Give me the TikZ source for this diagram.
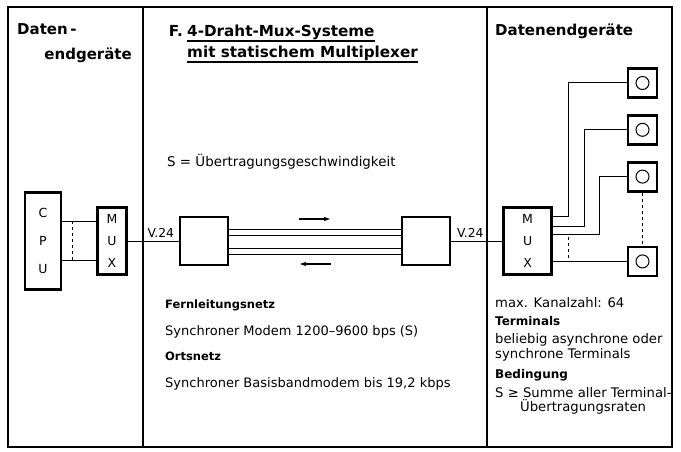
\documentclass[tikz,border=0pt]{standalone}
\usepackage{fontspec}
\setmainfont{DejaVu Sans}
\usetikzlibrary{positioning, calc, arrows.meta}

\begin{document}
\begin{tikzpicture}[
        x=1pt, y=-1pt,
        node distance=15pt,
        frame/.style={line width=2pt},
        unit/.style={
            rectangle,
            draw,
            line width=2.4pt,
            align=center,
            inner sep=0pt,
            font=\fontsize{12.5}{22}\selectfont
        },
        terminal/.style={
            rectangle,
            draw,
            line width=2.8pt,
            minimum width=29pt,
            minimum height=29pt
        },
        heading/.style={font=\bfseries\fontsize{15}{18}\selectfont, inner sep=0pt},
        subhead/.style={font=\bfseries\fontsize{11.5}{14}\selectfont, inner sep=0pt, anchor=base west},
        rsubhead/.style={font=\bfseries\fontsize{12}{14}\selectfont, inner sep=0pt, anchor=base west},
        body/.style={font=\fontsize{13}{15}\selectfont, inner sep=0pt, anchor=base west},
        rbody/.style={font=\fontsize{13.2}{15}\selectfont, inner sep=0pt, anchor=base west},
        iface/.style={font=\fontsize{12.3}{14}\selectfont, inner sep=3pt},
        wire/.style={line width=1pt},
        arrow/.style={-{Latex[length=7pt,width=4.5pt]}, line width=1.2pt}
        ]

        \useasboundingbox (0,0) rectangle (681,452);

        % Frame and columns
        \draw[frame] (8,7) rectangle (672,447);
        \draw[frame] (143,7) -- (143,447);
        \draw[frame] (487,7) -- (487,447);

        % Headings
        \node[heading, anchor=base west] (lefthead1) at (17,35) {Daten\,-};
        \node[heading, anchor=base east] (lefthead2) at (132,60) {endgeräte};
        \node[heading, font=\bfseries\fontsize{15.2}{18}\selectfont, anchor=base west] (title1) at (187,37) {4-Draht-Mux-Systeme};
        \node[heading, font=\bfseries\fontsize{15.2}{18}\selectfont, anchor=base east] (titlenr) at ([xshift=-4pt]title1.base west) {F.};
        \node[heading, font=\bfseries\fontsize{15.2}{18}\selectfont, anchor=base west] (title2) at ([yshift=-21pt]title1.base west) {mit statischem Multiplexer};
        \draw[line width=1.4pt] ([yshift=-4pt]title1.base west) -- ([yshift=-4pt]title1.base east);
        \draw[line width=1.4pt] ([yshift=-4pt]title2.base west) -- ([yshift=-4pt]title2.base east);
        \node[heading, anchor=base west] (righthead) at (495,36) {Datenendgeräte};

        \node[body, font=\fontsize{13.4}{15}\selectfont] (speed) at (167,167) {S = Übertragungsgeschwindigkeit};

        % Left side
        \node[unit, minimum width=36pt, minimum height=97pt, font=\fontsize{12.5}{28}\selectfont] (cpu) at (43,241) {C\\P\\U};
        \node[unit, minimum width=29pt, minimum height=67pt, right=34pt of cpu] (muxl) {M\\U\\X};

        % Line with modems
        \node[unit, minimum width=48pt, minimum height=48pt, right=51pt of muxl] (modeml) {};
        \node[unit, minimum width=48pt, minimum height=48pt, right=172pt of modeml] (modemr) {};
        \node[unit, minimum width=48pt, minimum height=67pt, right=51pt of modemr] (muxr) {M\\U\\X};

        % Terminals
        \node[terminal] (t1) at (642.5,83) {};
        \node[terminal, below=of t1] (t2) {};
        \node[terminal, below=of t2] (t3) {};
        \node[terminal, below=53pt of t3] (t4) {};
        \foreach \t in {t1, t2, t3, t4}
            \draw[wire] (\t) circle (6.5pt);

        % Connections left
        \draw[wire] ([yshift=20pt]cpu.east) -- ([yshift=20pt]cpu.east -| muxl.west);
        \draw[wire] ([yshift=-19pt]cpu.east) -- ([yshift=-19pt]cpu.east -| muxl.west);
        \draw[wire, dashed] ([xshift=10pt,yshift=20pt]cpu.east) -- ([xshift=10pt,yshift=-19pt]cpu.east);
        \draw[wire] (muxl.east) -- node[iface, pos=0.65, above] {V.24} (modeml.west);

        % Four-wire line
        \foreach \s in {11.5, 6, -7.5, -13}
            \draw[wire] ([yshift=\s pt]modeml.east) -- ([yshift=\s pt]modemr.west);
        \coordinate (mid) at ($(modeml.east)!0.5!(modemr.west)$);
        \coordinate (fwdstart) at ([xshift=-16pt,yshift=22pt]mid);
        \coordinate (fwdend) at ([xshift=16pt,yshift=22pt]mid);
        \coordinate (bckstart) at ([xshift=16pt,yshift=-23pt]mid);
        \coordinate (bckend) at ([xshift=-16pt,yshift=-23pt]mid);
        \draw[arrow] (fwdstart) -- (fwdend);
        \draw[arrow] (bckstart) -- (bckend);

        % Connections right
        \draw[wire] (modemr.east) -- node[iface, pos=0.37, above] {V.24} (muxr.west);
        \draw[wire] ([yshift=25pt]muxr.east) -- ++(16pt,0) |- (t1.west);
        \draw[wire] ([yshift=15pt]muxr.east) -- ++(32pt,0) |- (t2.west);
        \draw[wire] ([yshift=7pt]muxr.east) -- ++(47pt,0) |- (t3.west);
        \draw[wire] (muxr.east |- t4.west) -- (t4.west);
        \draw[wire, dashed] ([xshift=16pt,yshift=4pt]muxr.east) -- ([xshift=16pt,yshift=-17pt]muxr.east);
        \draw[wire, dashed] (t3) -- (t4);

        % Middle notes
        \node[subhead] (fern) at (165,308) {Fernleitungsnetz};
        \node[body] (ferntext) at ([yshift=-27pt]fern.base west) {Synchroner Modem 1200–9600 bps (S)};
        \node[subhead] (orts) at ([yshift=-25pt]ferntext.base west) {Ortsnetz};
        \node[body] (ortstext) at ([yshift=-27pt]orts.base west) {Synchroner Basisbandmodem bis 19,2 kbps};

        % Right notes
        \node[rbody] (kanal) at (495,307) {max. Kanalzahl: 64};
        \node[rsubhead] (term) at ([yshift=-18pt]kanal.base west) {Terminals};
        \node[rbody] (termtext1) at ([yshift=-18pt]term.base west) {beliebig asynchrone oder};
        \node[rbody] (termtext2) at ([yshift=-15pt]termtext1.base west) {synchrone Terminals};
        \node[rsubhead] (bed) at ([yshift=-20pt]termtext2.base west) {Bedingung};
        \node[rbody] (bedtext1) at ([yshift=-19pt]bed.base west) {S ≥ Summe aller Terminal-};
        \node[rbody] (bedtext2) at ([xshift=25pt,yshift=-14pt]bedtext1.base west) {Übertragungsraten};

    \end{tikzpicture}
\end{document}
